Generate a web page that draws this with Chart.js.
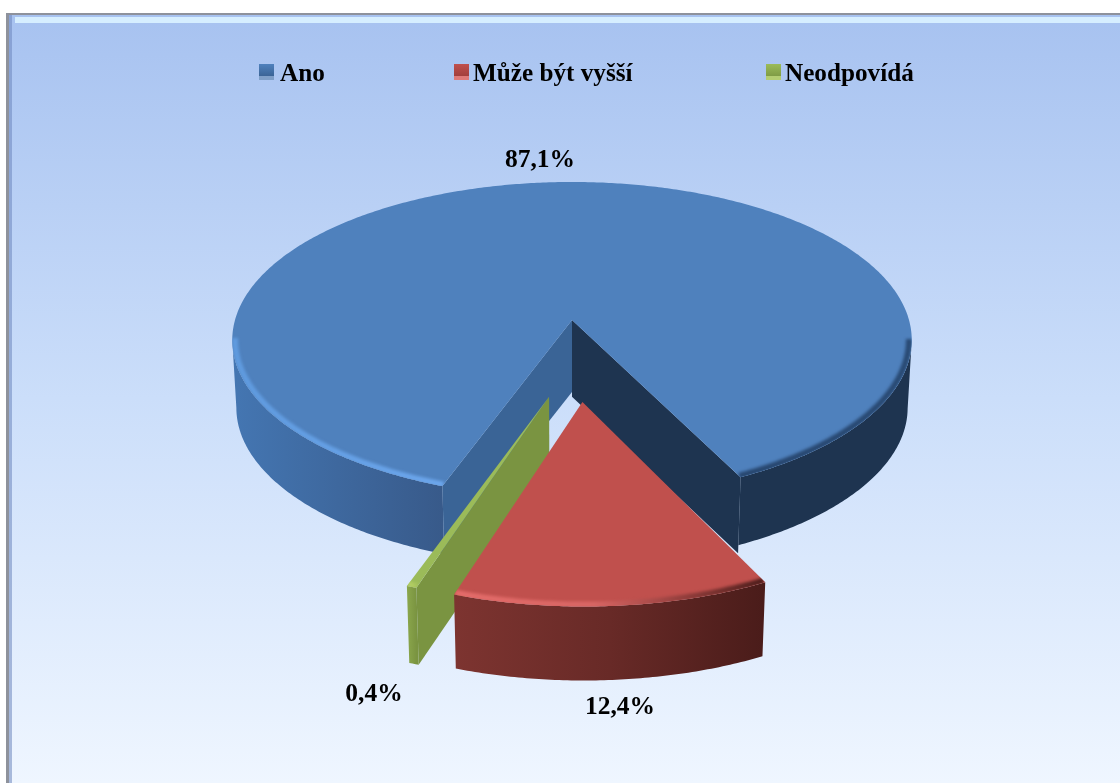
<!DOCTYPE html>
<html>
<head>
<meta charset="utf-8">
<title>Graf</title>
<style>
html, body { margin: 0; padding: 0; background: #fff; }
canvas { display: block; }
</style>
<script src="https://cdn.jsdelivr.net/npm/chart.js@4/dist/chart.umd.js"></script>
</head>
<body>
<canvas id="graf" width="1120" height="783"></canvas>
<script>
var categories = ['Ano', 'Může být vyšší', 'Neodpovídá'];
var percentValues = [87.1, 12.4, 0.4];

// camera of the tilted pie
var view = { b: 337, a: 155.5, k: 0.1266, m: 0.012 };
var explode = [[0, 0], [0.029, 0.494], [-0.064, 0.465]];
var depth = [68, 74, 77];

var looks = [
    { top: '#4f81bd', inner: '#3a6496', innerEnd: '#1e3450',
      wall: [[0, '#4476b2'], [0.31, '#385a8a'], [0.75, '#1e3450'], [1, '#1e3450']],
      rim: [[0, '#5f9ade'], [0.31, '#6ca6ec'], [0.6, '#4f81bd'], [0.75, '#27466f'], [1, '#294a74']] },
    { top: '#c0504d', wall: [[0, '#7d3430'], [0.5, '#682a27'], [1, '#4a1c1a']],
      rim: [[0, '#e46c6a'], [0.45, '#d86664'], [0.75, '#8e3c3a'], [1, '#4a1c1a']] },
    { top: '#9bbb59', inner: '#7a9441', wall: [[0, '#8ba74c'], [1, '#7a9441']],
      rim: [[0, '#bcd46a'], [1, '#a6c45c']] }
];

function project(arc, i, u, v, z) {
    var pu = u + explode[i][0], pv = v + explode[i][1];
    var w = 1 - view.k * pv;
    return [arc.x + view.b * pu / (w + view.m * z), arc.y + view.a * pv / w + depth[i] * z];
}

function edge(arc, i, a0, a1, z, r) {
    var pts = [], n = Math.max(2, Math.ceil(Math.abs(a1 - a0) / 0.01));
    for (var s = 0; s <= n; s++) {
        var a = a0 + (a1 - a0) * s / n;
        pts.push(project(arc, i, r * Math.cos(a), r * Math.sin(a), z));
    }
    return pts;
}

function tracePoly(ctx, pts) {
    ctx.beginPath();
    pts.forEach(function (p, n) {
        if (n === 0) { ctx.moveTo(p[0], p[1]); } else { ctx.lineTo(p[0], p[1]); }
    });
}

function fillPoly(ctx, pts, color) {
    ctx.fillStyle = color;
    tracePoly(ctx, pts);
    ctx.closePath();
    ctx.fill();
}

function xGradient(ctx, pts, stops) {
    var xs = pts.map(function (p) { return p[0]; });
    var g = ctx.createLinearGradient(Math.min.apply(null, xs), 0, Math.max.apply(null, xs), 0);
    stops.forEach(function (s) { g.addColorStop(s[0], s[1]); });
    return g;
}

function drawSlice(ctx, arc, i) {
    var look = looks[i];
    var a0 = arc.startAngle, a1 = arc.endAngle;
    var apexTop = project(arc, i, 0, 0, 0);
    var apexLow = project(arc, i, 0, 0, i === 0 ? 1.06 : 1);
    var rimTop = edge(arc, i, a0, a1, 0, 1), rimLow = edge(arc, i, a0, a1, 1, 1);
    var last = rimTop.length - 1;

    // outer wall: only the stretches that face the viewer (x falls as the angle grows)
    var wallPaint = xGradient(ctx, rimTop, look.wall);
    var from = -1;
    for (var s = 0; s <= last; s++) {
        var front = s < last && rimTop[s + 1][0] < rimTop[s][0];
        if (front && from < 0) { from = s; }
        if (!front && from >= 0) {
            fillPoly(ctx, rimTop.slice(from, s + 1).concat(rimLow.slice(from, s + 1).reverse()), wallPaint);
            from = -1;
        }
    }

    // radial walls, only these face the viewer
    if (i === 0) {
        var endLow = edge(arc, i, a1, a1, 1.12, 1)[0];
        fillPoly(ctx, [apexTop, rimTop[last], endLow, project(arc, i, 0, 0, 1.13)], look.innerEnd);
        fillPoly(ctx, [apexTop, rimTop[0], rimLow[0], apexLow], look.inner);
    } else if (i === 2) {
        fillPoly(ctx, [apexTop, rimTop[0], rimLow[0], apexLow], look.inner);
    }

    // top face
    var face = [apexTop].concat(rimTop);
    fillPoly(ctx, face, look.top);

    // soft bevel along the front of the rim
    var runs = [], run = [];
    edge(arc, i, a0, a1, 0, 0.992).forEach(function (p) {
        if (p[1] > arc.y + 18) {
            run.push(p);
        } else if (run.length) {
            runs.push(run);
            run = [];
        }
    });
    if (run.length) { runs.push(run); }
    ctx.save();
    tracePoly(ctx, face);
    ctx.closePath();
    ctx.clip();
    ctx.filter = 'blur(1.5px)';
    ctx.lineWidth = 6;
    ctx.strokeStyle = xGradient(ctx, rimTop, look.rim);
    runs.forEach(function (r) {
        if (r.length > 1) {
            tracePoly(ctx, r);
            ctx.stroke();
        }
    });
    ctx.restore();
}

var backdrop = {
    id: 'backdrop',
    beforeDraw: function (chart) {
        var ctx = chart.ctx;
        var g = ctx.createLinearGradient(0, 13, 0, 783);
        g.addColorStop(0, '#a7c2f0');
        g.addColorStop(0.5, '#cbdefa');
        g.addColorStop(1, '#eff6ff');
        ctx.fillStyle = '#ffffff';
        ctx.fillRect(0, 0, 1120, 783);
        ctx.fillStyle = g;
        ctx.fillRect(6, 13, 1114, 770);
        ctx.fillStyle = '#d6eeff';
        ctx.fillRect(15, 17, 1105, 6);
        ctx.fillStyle = '#8e929c';
        ctx.fillRect(6, 13, 1114, 2);
        ctx.fillRect(6, 13, 3, 770);
        ctx.fillStyle = 'rgba(110,135,190,0.55)';
        ctx.fillRect(9, 15, 3, 768);
    }
};

var pie3d = {
    id: 'pie3d',
    beforeDatasetsDraw: function (chart) {
        var arcs = chart.getDatasetMeta(0).data;
        [0, 2, 1].forEach(function (i) { drawSlice(chart.ctx, arcs[i], i); });
        return false;
    }
};

var legendX = [[259, 280], [454, 473], [766, 785]];
var legendBand = ['#7f9fc8', '#de7a78', '#b3cd72'];
var legendDark = ['#3b6496', '#a23f3c', '#7f9c45'];
var labelPos = [[540, 167], [620, 714], [374, 701]];

var texts = {
    id: 'texts',
    afterDraw: function (chart) {
        var ctx = chart.ctx;
        ctx.save();
        ctx.textBaseline = 'alphabetic';
        ctx.font = 'bold 25.2px "Liberation Serif"';
        categories.forEach(function (name, i) {
            var x = legendX[i][0];
            var g = ctx.createLinearGradient(0, 64, 0, 76);
            g.addColorStop(0, looks[i].top);
            g.addColorStop(1, legendDark[i]);
            ctx.fillStyle = g;
            ctx.fillRect(x, 64, 15, 12);
            ctx.fillStyle = legendBand[i];
            ctx.fillRect(x, 76, 15, 4);
            ctx.fillStyle = '#000000';
            ctx.textAlign = 'left';
            ctx.fillText(name, legendX[i][1], 81);
        });
        ctx.font = 'bold 25.5px "Liberation Serif"';
        ctx.textAlign = 'center';
        percentValues.forEach(function (val, i) {
            ctx.fillText(val.toFixed(1).replace('.', ',') + '%', labelPos[i][0], labelPos[i][1]);
        });
        ctx.restore();
    }
};

var graf = new Chart(document.getElementById('graf'), {
    type: 'pie',
    data: {
        labels: categories,
        datasets: [{
            data: percentValues,
            backgroundColor: ['#4f81bd', '#c0504d', '#9bbb59'],
            borderWidth: 0
        }]
    },
    options: {
        responsive: false,
        animation: false,
        rotation: 199.8,
        layout: { padding: { left: 24, top: 100, bottom: 243 } },
        plugins: { legend: { display: false }, tooltip: { enabled: false } }
    },
    plugins: [backdrop, pie3d, texts]
});
</script>
</body>
</html>
